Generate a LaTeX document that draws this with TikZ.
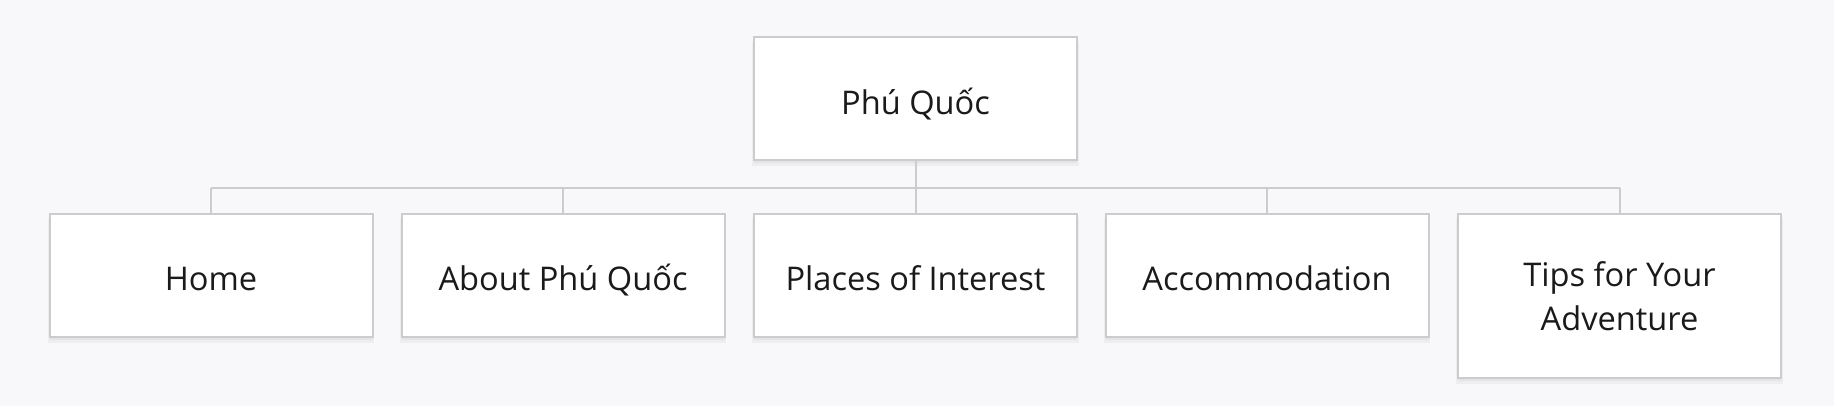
\documentclass[tikz,border=0pt]{standalone}
\usepackage{fontspec}
\setmainfont{Open Sans}
\usetikzlibrary{shadows}
\definecolor{bgc}{HTML}{F8F8FA}
\definecolor{edgec}{HTML}{CCCCCC}
\definecolor{txtc}{HTML}{1A1A1A}
\begin{document}
\begin{tikzpicture}[x=1pt,y=-1pt,
  box/.style={draw=edgec, line width=2pt, fill=white, text=txtc,
    minimum width=323pt, minimum height=123pt, align=center, inner sep=0pt,
    font=\fontsize{32.6}{44}\selectfont,
    general shadow={shadow xshift=0pt, shadow yshift=-5pt, opacity=0.04, fill=black, shadow scale=1.01},
    general shadow={shadow xshift=0pt, shadow yshift=-3pt, opacity=0.04, fill=black}},
  oneline/.style={text height=32pt, text depth=1.8pt},
  conn/.style={draw=edgec, line width=2pt}]
\fill[bgc] (0,0) rectangle (1834,406);
\useasboundingbox (0,0) rectangle (1834,406);
\node[box, oneline] (root) at (915.5,99) {Phú Quốc};
\node[box, oneline] (c1) at (211,275.5) {Home};
\node[box, oneline] (c2) at (563,275.5) {About Phú Quốc};
\node[box, oneline] (c3) at (915.5,275.5) {Places of Interest};
\node[box, oneline] (c4) at (1267,275.5) {Accommodation};
\node[box, minimum height=164pt] (c5) at (1619.5,296) {Tips for Your\\Adventure};
\coordinate (bus) at (915.5,188);
\draw[conn] (root.south) -- (bus);
\foreach \c in {c1,c2,c3,c4,c5}{
  \draw[conn] (bus -| \c.north) -- (\c.north);
}
\draw[conn] (bus -| c1.north) -- (bus -| c5.north);
\end{tikzpicture}
\end{document}
